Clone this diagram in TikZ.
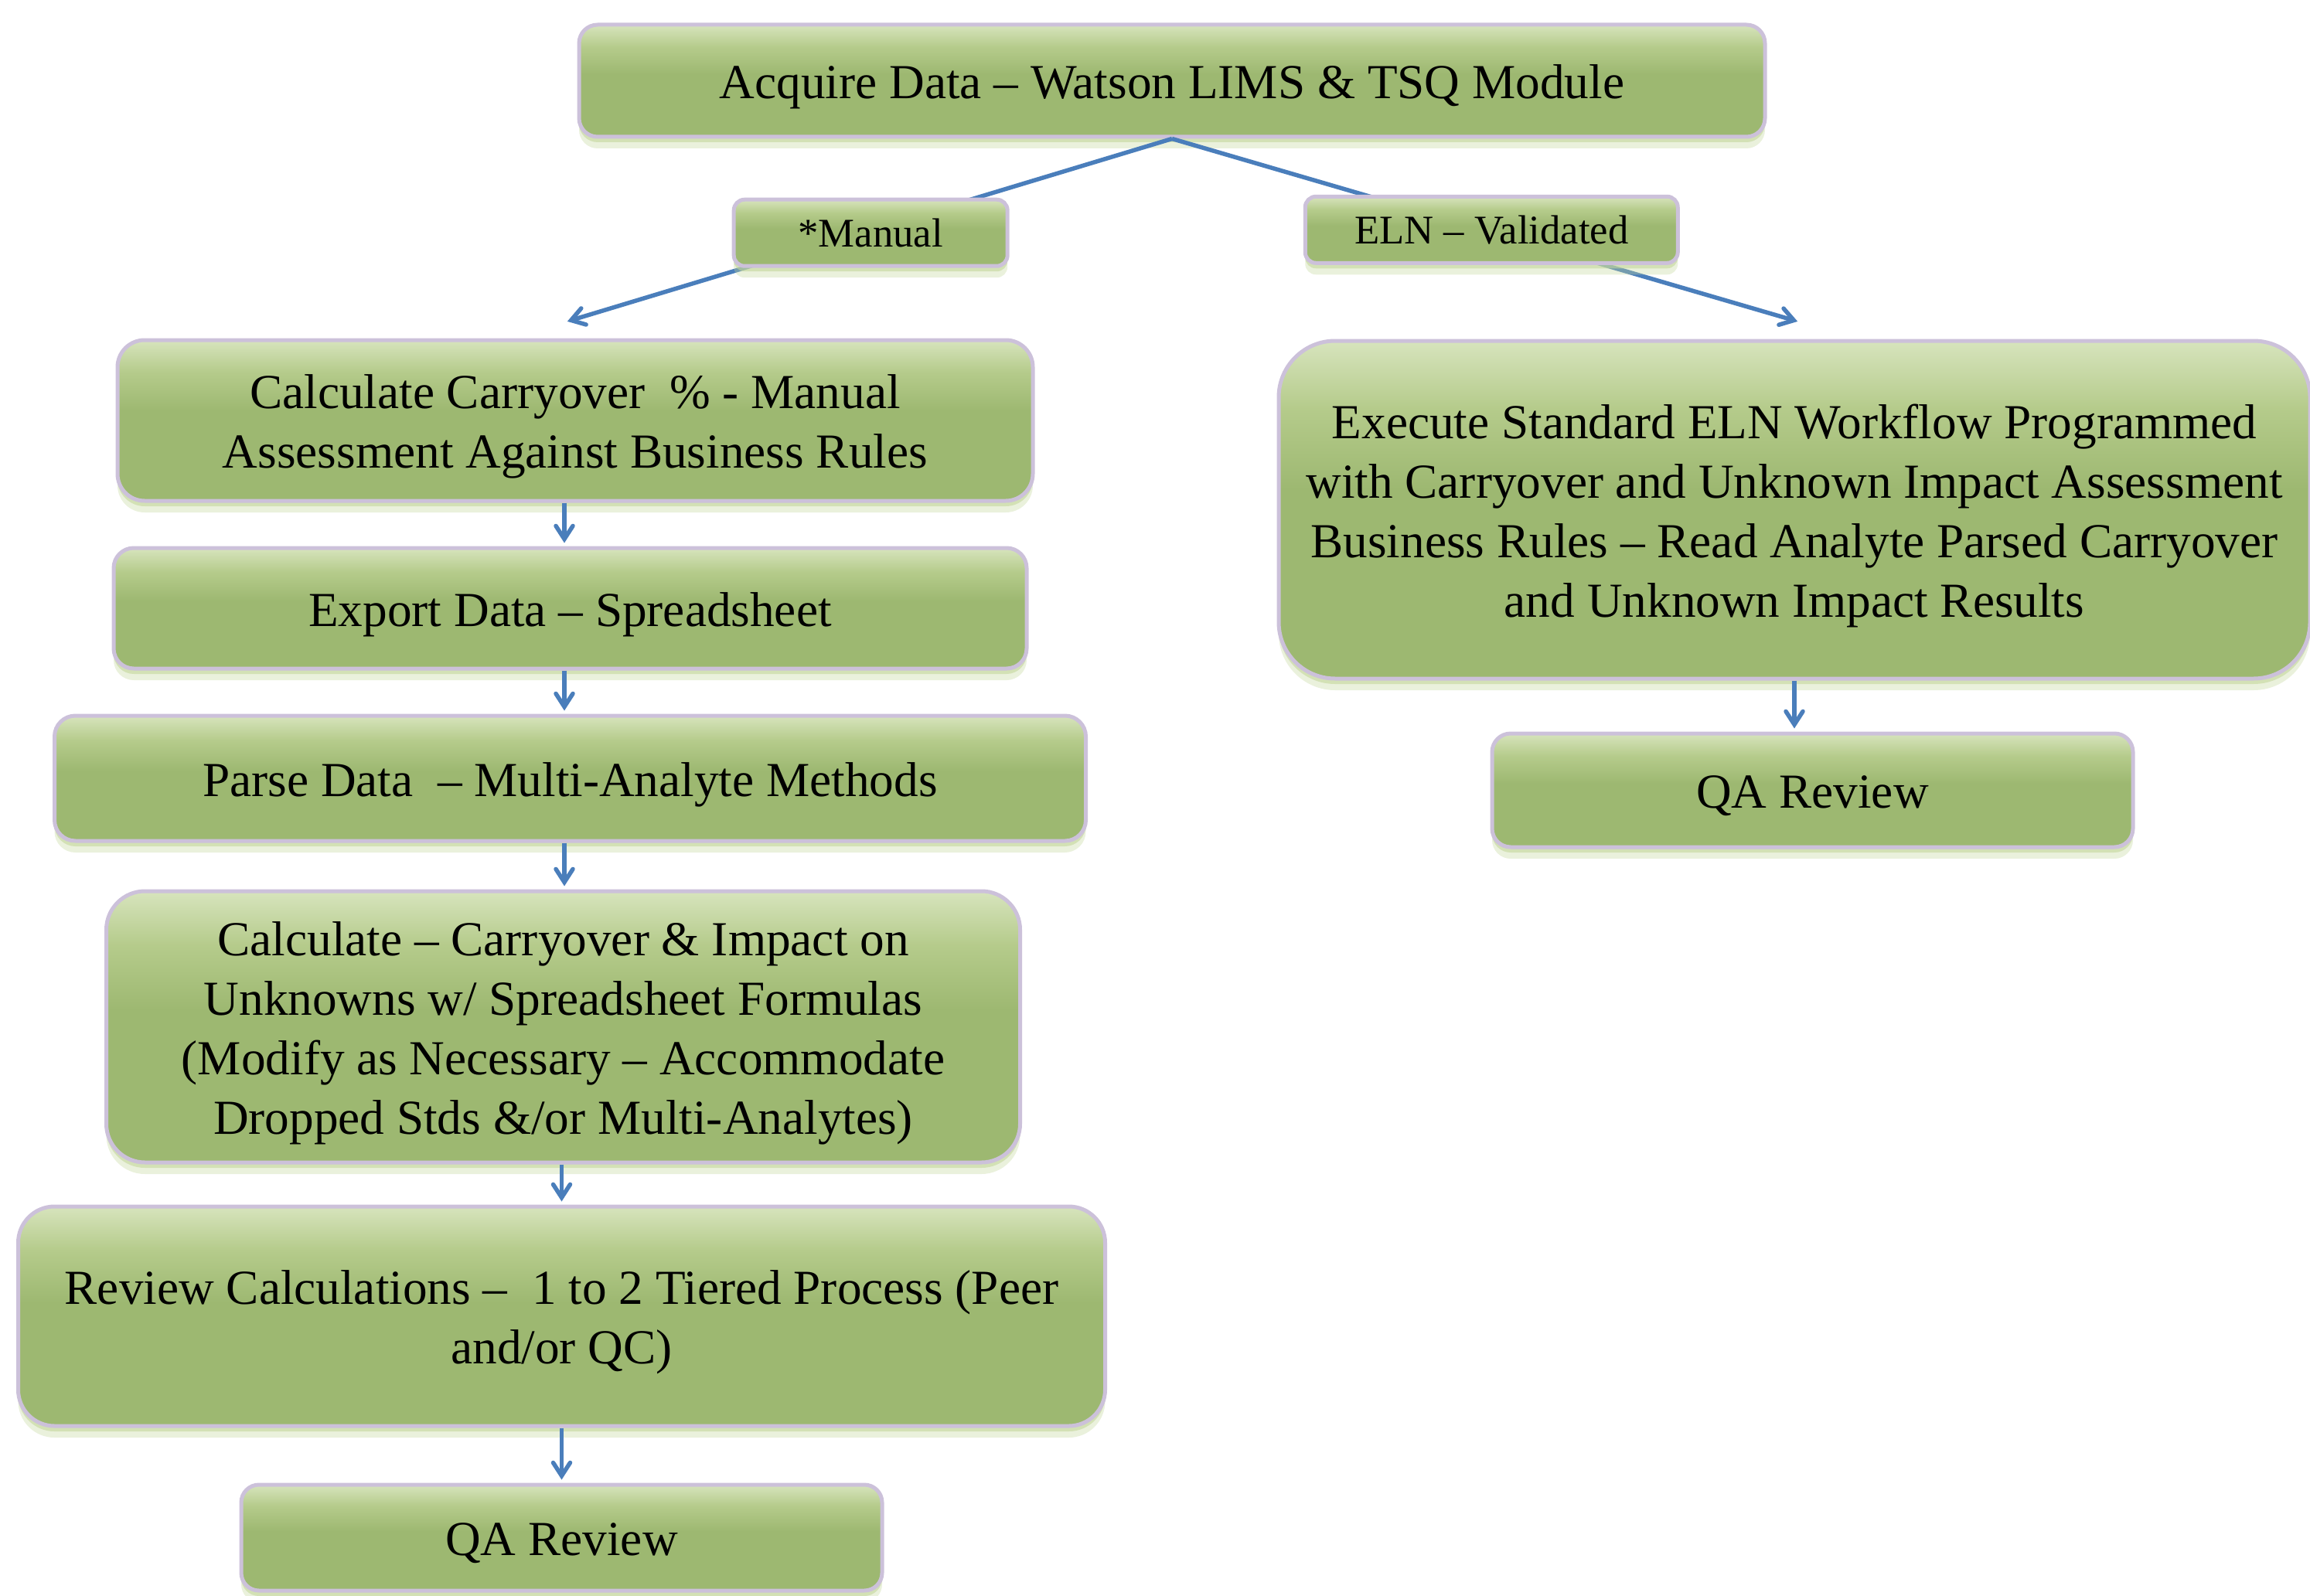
\documentclass[tikz,border=0pt]{standalone}
\usepackage{fontspec}
\setmainfont{Liberation Serif}
\usetikzlibrary{positioning,shadows,arrows.meta}
\definecolor{boxlight}{RGB}{215,228,189}
\definecolor{boxmid}{RGB}{181,203,139}
\definecolor{boxdark}{RGB}{157,184,113}
\definecolor{boxline}{RGB}{204,193,218}
\definecolor{glowgreen}{RGB}{195,214,155}
\definecolor{linkblue}{RGB}{74,126,187}
\pgfdeclareverticalshading{boxgreen}{100bp}{color(0bp)=(boxdark); color(25bp)=(boxdark); color(53bp)=(boxdark); color(65bp)=(boxmid); color(75bp)=(boxlight); color(100bp)=(boxlight)}
\newcommand{\toppad}{\rule{0pt}{17.2pt}}
\newcommand{\botpad}{\rule[-4pt]{0pt}{0pt}}
\begin{document}
\begin{tikzpicture}[
    stepbox/.style={rectangle, draw=boxline, line width=0.05cm, shading=boxgreen, align=center, inner sep=0pt, font=\fontsize{18}{21.9}\selectfont,
      execute at begin node={\toppad}, execute at end node={\botpad},
      drop shadow={shadow xshift=0cm, shadow yshift=-0.15cm, fill=glowgreen, opacity=0.35},
      drop shadow={shadow xshift=0cm, shadow yshift=-0.07cm, fill=glowgreen, opacity=0.6}},
    tagbox/.style={rectangle, draw=boxline, line width=0.05cm, shading=boxgreen, align=center, inner sep=0pt, font=\fontsize{15}{18}\selectfont,
      drop shadow={shadow xshift=0cm, shadow yshift=-0.15cm, fill=glowgreen, opacity=0.35},
      drop shadow={shadow xshift=0cm, shadow yshift=-0.07cm, fill=glowgreen, opacity=0.6}},
    link/.style={draw=linkblue, line width=0.055cm},
    arr/.style={link, -{Straight Barb[length=0.17cm, width=0.22cm, line cap=round]}, shorten >=0.04cm}
  ]
  \useasboundingbox (0,0) rectangle (29.88,-20.64);

  \node[stepbox, minimum width=15.34cm, minimum height=1.45cm, rounded corners=0.24cm] (acquire) at (15.16,-1.045) {Acquire Data – Watson LIMS \& TSQ Module};
  \coordinate (tipL) at (7.30,-4.17);
  \coordinate (tipR) at (23.29,-4.17);

  % manual branch
  \node[stepbox, minimum width=11.84cm, minimum height=2.08cm, rounded corners=0.35cm] (calcco) at (7.44,-5.44) {\toppad Calculate Carryover~ \% - Manual\\Assessment Against Business Rules\botpad};
  \node[stepbox, below=0.56cm of calcco, xshift=-0.065cm, minimum width=11.81cm, minimum height=1.56cm, rounded corners=0.26cm] (export) {Export Data – Spreadsheet};
  \node[stepbox, below=0.56cm of export, minimum width=13.34cm, minimum height=1.62cm, rounded corners=0.27cm] (parse) {Parse Data~ – Multi-Analyte Methods};
  \node[stepbox, below=0.60cm of parse, xshift=-0.09cm, minimum width=11.82cm, minimum height=3.51cm, rounded corners=0.5cm] (calcimp) {\toppad Calculate – Carryover \& Impact on\\Unknowns w/ Spreadsheet Formulas\\(Modify as Necessary – Accommodate\\Dropped Stds \&/or Multi-Analytes)\botpad};
  \node[stepbox, below=0.52cm of calcimp, xshift=-0.02cm, minimum width=14.06cm, minimum height=2.84cm, rounded corners=0.47cm] (review) {\toppad Review Calculations –~ 1 to 2 Tiered Process (Peer\\and/or QC)\botpad};
  \node[stepbox, below=0.71cm of review, minimum width=8.29cm, minimum height=1.37cm, rounded corners=0.23cm] (qaleft) {QA Review};

  % validated branch
  \node[stepbox, minimum width=13.34cm, minimum height=4.37cm, rounded corners=0.73cm] (eln) at (23.21,-6.595) {\toppad Execute Standard ELN Workflow Programmed\\with Carryover and Unknown Impact Assessment\\Business Rules – Read Analyte Parsed Carryover\\and Unknown Impact Results\botpad};
  \node[stepbox, below=0.66cm of eln, xshift=0.235cm, minimum width=8.29cm, minimum height=1.47cm, rounded corners=0.24cm] (qaright) {QA Review};

  \draw[arr] (acquire.south) -- node[tagbox, pos=0.5125, xshift=0.13cm, minimum width=3.54cm, minimum height=0.86cm, rounded corners=0.14cm] (manual) {*Manual} (tipL);
  \draw[arr] (acquire.south) -- node[tagbox, pos=0.496, xshift=0.10cm, minimum width=4.82cm, minimum height=0.86cm, rounded corners=0.14cm] (valid) {ELN – Validated} (tipR);

  \draw[arr] (calcco.south -| tipL) -- (export.north -| tipL);
  \draw[arr] (export.south -| tipL) -- (parse.north -| tipL);
  \draw[arr] (parse.south -| tipL) -- (calcimp.north -| tipL);
  \draw[arr] (calcimp.south -| review) -- (review.north);
  \draw[arr] (review.south) -- (qaleft.north);
  \draw[arr] (eln.south) -- (eln.south |- qaright.north);
\end{tikzpicture}
\end{document}
